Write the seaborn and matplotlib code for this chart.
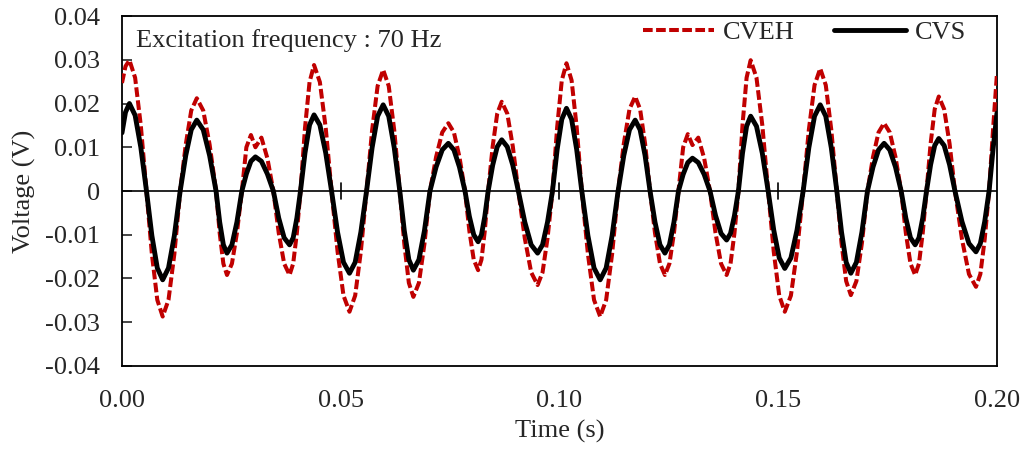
import matplotlib
matplotlib.use("Agg")
import matplotlib.pyplot as plt
import seaborn as sns
import pandas as pd

# Time samples (s)
time_s = [
    0.0000, 0.0008,
    0.0017, 0.0030, 0.0043,
    0.0056, 0.00683, 0.00807,
    0.0093, 0.01063, 0.01197,
    0.0133, 0.01457, 0.01583,
    0.0171, 0.01857, 0.02003,
    0.0215, 0.02233, 0.02317,
    0.0240, 0.02513, 0.02627,
    0.0274, 0.02843, 0.02947,
    0.0305, 0.03187, 0.03323,
    0.0346, 0.03583, 0.03707,
    0.0383, 0.03913, 0.03997,
    0.0408, 0.04183, 0.04287,
    0.0439, 0.04523, 0.04657,
    0.0479, 0.04927, 0.05063,
    0.0520, 0.0533, 0.0546,
    0.0559, 0.05717, 0.05843,
    0.0597, 0.06097, 0.06223,
    0.0635, 0.06453, 0.06557,
    0.0666, 0.06787, 0.06913,
    0.0704, 0.0718, 0.0732,
    0.0746, 0.07587, 0.07713,
    0.0784, 0.0794, 0.0804,
    0.0814, 0.08217, 0.08293,
    0.0837, 0.08473, 0.08577,
    0.0868, 0.08807, 0.08933,
    0.0906, 0.09207, 0.09353,
    0.0950, 0.09613, 0.09727,
    0.0984, 0.09947, 0.10053,
    0.1016, 0.10277, 0.10393,
    0.1051, 0.1065, 0.1079,
    0.1093, 0.11067, 0.11203,
    0.1134, 0.1147, 0.1160,
    0.1173, 0.11843, 0.11957,
    0.1207, 0.12183, 0.12297,
    0.1241, 0.12513, 0.12617,
    0.1272, 0.12827, 0.12933,
    0.1304, 0.13173, 0.13307,
    0.1344, 0.13567, 0.13693,
    0.1382, 0.1391, 0.1400,
    0.1409, 0.14183, 0.14277,
    0.1437, 0.14503, 0.14637,
    0.1477, 0.14897, 0.15023,
    0.1515, 0.1529, 0.1543,
    0.1557, 0.1570, 0.1583,
    0.1596, 0.16087, 0.16213,
    0.1634, 0.16447, 0.16553,
    0.1666, 0.16787, 0.16913,
    0.1704, 0.17167, 0.17293,
    0.1742, 0.1755, 0.1768,
    0.1781, 0.17917, 0.18023,
    0.1813, 0.18217, 0.18303,
    0.1839, 0.18483, 0.18577,
    0.1867, 0.18793, 0.18917,
    0.1904, 0.1920, 0.1936,
    0.1952, 0.1962, 0.1972,
    0.1982, 0.1991,
    0.2000,
]

# Energy-harvester voltage (V)
cveh = [
    0.0247, 0.0285,
    0.0299, 0.0259, 0.0150,
    0.0, -0.0144, -0.0249,
    -0.0287, -0.0249, -0.0144,
    0.0, 0.0106, 0.0184,
    0.0212, 0.0184, 0.0106,
    0.0, -0.0096, -0.0166,
    -0.0192, -0.0166, -0.0096,
    0.0, 0.0100, 0.0128,
    0.0100, 0.0122, 0.0075,
    0.0, -0.0096, -0.0166,
    -0.0192, -0.0166, -0.0096,
    0.0, 0.0144, 0.0249,
    0.0288, 0.0249, 0.0144,
    0.0, -0.0138, -0.0239,
    -0.0276, -0.0239, -0.0138,
    0.0, 0.0139, 0.0240,
    0.0277, 0.0240, 0.0139,
    0.0, -0.0121, -0.0210,
    -0.0242, -0.0210, -0.0121,
    0.0, 0.0078, 0.0134,
    0.0155, 0.0134, 0.0078,
    0.0, -0.0091, -0.0157,
    -0.0181, -0.0157, -0.0091,
    0.0, 0.0102, 0.0177,
    0.0204, 0.0177, 0.0102,
    0.0, -0.0108, -0.0186,
    -0.0215, -0.0186, -0.0108,
    0.0, 0.0146, 0.0253,
    0.0292, 0.0253, 0.0146,
    0.0, -0.0144, -0.0249,
    -0.0287, -0.0249, -0.0144,
    0.0, 0.0108, 0.0187,
    0.0216, 0.0187, 0.0108,
    0.0, -0.0096, -0.0166,
    -0.0192, -0.0166, -0.0096,
    0.0, 0.0100, 0.0130,
    0.0105, 0.0122, 0.0075,
    0.0, -0.0096, -0.0166,
    -0.0192, -0.0166, -0.0096,
    0.0, 0.0150, 0.0259,
    0.0299, 0.0259, 0.0150,
    0.0, -0.0138, -0.0239,
    -0.0276, -0.0239, -0.0138,
    0.0, 0.0140, 0.0242,
    0.0280, 0.0242, 0.0140,
    0.0, -0.0119, -0.0206,
    -0.0238, -0.0206, -0.0119,
    0.0, 0.0078, 0.0134,
    0.0155, 0.0134, 0.0078,
    0.0, -0.0096, -0.0166,
    -0.0192, -0.0166, -0.0096,
    0.0, 0.0108, 0.0187,
    0.0216, 0.0187, 0.0108,
    0.0, -0.0110, -0.0190,
    -0.0219, -0.0190, -0.0110,
    0.0, 0.0140,
    0.0269,
]

# Vibration-sensor voltage (V)
cvs = [
    0.0133, 0.0180,
    0.0200, 0.0173, 0.0100,
    0.0, -0.0102, -0.0176,
    -0.0203, -0.0176, -0.0102,
    0.0, 0.0081, 0.0140,
    0.0162, 0.0140, 0.0081,
    0.0, -0.0071, -0.0123,
    -0.0142, -0.0123, -0.0071,
    0.0, 0.0039, 0.0068,
    0.0078, 0.0068, 0.0039,
    0.0, -0.0062, -0.0107,
    -0.0123, -0.0107, -0.0062,
    0.0, 0.0087, 0.0151,
    0.0174, 0.0151, 0.0087,
    0.0, -0.0094, -0.0163,
    -0.0188, -0.0163, -0.0094,
    0.0, 0.0099, 0.0171,
    0.0197, 0.0171, 0.0099,
    0.0, -0.0091, -0.0157,
    -0.0181, -0.0157, -0.0091,
    0.0, 0.0055, 0.0094,
    0.0109, 0.0094, 0.0055,
    0.0, -0.0058, -0.0100,
    -0.0116, -0.0100, -0.0058,
    0.0, 0.0059, 0.0101,
    0.0117, 0.0101, 0.0059,
    0.0, -0.0071, -0.0123,
    -0.0142, -0.0123, -0.0071,
    0.0, 0.0095, 0.0164,
    0.0189, 0.0164, 0.0095,
    0.0, -0.0102, -0.0176,
    -0.0203, -0.0176, -0.0102,
    0.0, 0.0081, 0.0140,
    0.0162, 0.0140, 0.0081,
    0.0, -0.0071, -0.0123,
    -0.0142, -0.0123, -0.0071,
    0.0, 0.0038, 0.0065,
    0.0075, 0.0065, 0.0038,
    0.0, -0.0056, -0.0097,
    -0.0112, -0.0097, -0.0056,
    0.0, 0.0086, 0.0148,
    0.0171, 0.0148, 0.0086,
    0.0, -0.0089, -0.0153,
    -0.0177, -0.0153, -0.0089,
    0.0, 0.0099, 0.0171,
    0.0197, 0.0171, 0.0099,
    0.0, -0.0094, -0.0163,
    -0.0188, -0.0163, -0.0094,
    0.0, 0.0055, 0.0094,
    0.0109, 0.0094, 0.0055,
    0.0, -0.0062, -0.0107,
    -0.0123, -0.0107, -0.0062,
    0.0, 0.0060, 0.0104,
    0.0120, 0.0104, 0.0060,
    0.0, -0.0070, -0.0120,
    -0.0139, -0.0120, -0.0070,
    0.0, 0.0095,
    0.0178,
]

x_ticks = [0.00, 0.05, 0.10, 0.15, 0.20]
x_ticklabels = ["0.00", "0.05", "0.10", "0.15", "0.20"]
y_ticks = [-0.04, -0.03, -0.02, -0.01, 0.0, 0.01, 0.02, 0.03, 0.04]
y_ticklabels = ["-0.04", "-0.03", "-0.02", "-0.01", "0", "0.01", "0.02", "0.03", "0.04"]

sns.set_style("white")
plt.rcParams["font.family"] = ["Liberation Serif", "DejaVu Serif"]

df = pd.DataFrame({"Time": time_s, "CVEH": cveh, "CVS": cvs})

fig = plt.figure(figsize=(10.26, 4.5), dpi=100)
ax = fig.add_axes([0.1189, 0.1867, 0.8528, 0.7777])

sns.lineplot(data=df, x="Time", y="CVEH", ax=ax, color="#C00000", linewidth=2.9,
             label="CVEH", zorder=3)
ax.lines[-1].set_dashes((2.4, 0.85))
sns.lineplot(data=df, x="Time", y="CVS", ax=ax, color="black", linewidth=3.5,
             label="CVS", zorder=4)

# horizontal axis line through zero with crossing tick marks
ax.axhline(0, color="black", linewidth=1.2, zorder=2)
for xt in x_ticks[1:-1]:
    ax.plot([xt, xt], [-0.0018, 0.0018], color="black", linewidth=1.2, zorder=2)

ax.set_xlim(0, 0.2)
ax.set_ylim(-0.04, 0.04)
ax.set_xticks(x_ticks)
ax.set_xticklabels(x_ticklabels)
ax.set_yticks(y_ticks)
ax.set_yticklabels(y_ticklabels)
ax.tick_params(axis="x", length=0, pad=17, labelsize=19)
ax.tick_params(axis="y", direction="in", length=7, width=1.2, pad=16, labelsize=19,
               left=True)

for sp in ax.spines.values():
    sp.set_color("black")
    sp.set_linewidth(1.3)

ax.set_xlabel("Time (s)", fontsize=19, labelpad=6)
ax.set_ylabel("Voltage (V)", fontsize=19, labelpad=6)

ax.text(0.016, 0.931, "Excitation frequency : 70 Hz", transform=ax.transAxes,
        fontsize=19, ha="left", va="center")

leg = ax.legend(loc="upper right", bbox_to_anchor=(0.992, 1.055), ncol=2, frameon=False,
                fontsize=19, handlelength=2.7, handletextpad=0.35, columnspacing=1.5)

fig.savefig("out.png", dpi=100)
